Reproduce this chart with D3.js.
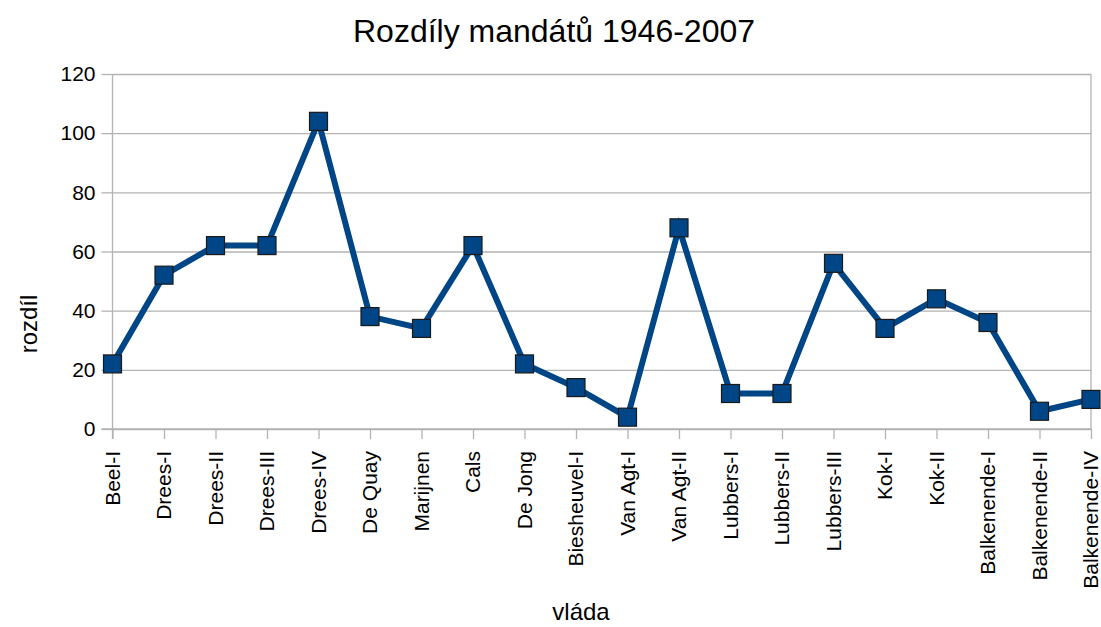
<!DOCTYPE html>
<html>
<head>
<meta charset="utf-8">
<script src="https://cdn.jsdelivr.net/npm/d3@7"></script>
<style>
  body { margin: 0; background: #fff; }
  text { font-family: "Liberation Sans", Arial, sans-serif; fill: #000; }
</style>
</head>
<body>
<svg id="chart" width="1101" height="627"></svg>
<script>
const vlady = ['Beel-I', 'Drees-I', 'Drees-II', 'Drees-III', 'Drees-IV', 'De Quay', 'Marijnen', 'Cals',
  'De Jong', 'Biesheuvel-I', 'Van Agt-I', 'Van Agt-II', 'Lubbers-I', 'Lubbers-II', 'Lubbers-III',
  'Kok-I', 'Kok-II', 'Balkenende-I', 'Balkenende-II', 'Balkenende-IV'];
const rozdil = [22, 52, 62, 62, 104, 38, 34, 62, 22, 14, 4, 68, 12, 12, 56, 34, 44, 36, 6, 10];
const yTicks = [0, 20, 40, 60, 80, 100, 120];

const svg = d3.select('#chart');
const margin = { top: 74, right: 10, bottom: 198, left: 112.5 };
const width = 1091 - margin.left;
const height = 429 - margin.top;
const g = svg.append('g').attr('transform', `translate(${margin.left},${margin.top})`);

const x = d3.scalePoint().domain(vlady).range([0, width]);
const y = d3.scaleLinear().domain([0, 120]).range([height, 0]);

// grid
g.append('g')
  .call(d3.axisLeft(y).tickValues(yTicks).tickSize(-width).tickFormat(() => ''))
  .call(s => s.select('.domain').remove())
  .selectAll('line').attr('stroke', '#b3b3b3').attr('stroke-width', 1.3);

// right border
g.append('line').attr('x1', width).attr('x2', width).attr('y1', 0).attr('y2', height)
  .attr('stroke', '#b3b3b3').attr('stroke-width', 1.3);

// y axis
const yAxis = g.append('g')
  .call(d3.axisLeft(y).tickValues(yTicks).tickSize(11).tickPadding(6));
yAxis.select('.domain').attr('stroke', '#b3b3b3').attr('stroke-width', 1.3).attr('d', `M0,${height + 10}V0`);
yAxis.selectAll('line').attr('stroke', '#b3b3b3').attr('stroke-width', 1.3);
yAxis.selectAll('text').style('font-size', '21px').attr('font-family', '"Liberation Sans", Arial, sans-serif');

// x axis
const xAxis = g.append('g').attr('transform', `translate(0,${height})`)
  .call(d3.axisBottom(x).tickSize(10).tickPadding(8));
xAxis.select('.domain').attr('stroke', '#b3b3b3').attr('stroke-width', 1.3).attr('d', `M-11,0H${width}`);
xAxis.selectAll('line').attr('stroke', '#b3b3b3').attr('stroke-width', 1.3);
xAxis.selectAll('text')
  .style('font-size', '21px')
  .attr('font-family', '"Liberation Sans", Arial, sans-serif')
  .attr('transform', 'rotate(-90)')
  .attr('text-anchor', 'end')
  .attr('x', -22)
  .attr('y', 0)
  .attr('dy', '0.32em');

// line
const line = d3.line().x((d, i) => x(vlady[i])).y(d => y(d));
g.append('path').datum(rozdil)
  .attr('fill', 'none')
  .attr('stroke', '#004586')
  .attr('stroke-width', 6)
  .attr('stroke-linejoin', 'miter')
  .attr('d', line);

// markers
const ms = 18;
g.selectAll('rect.dot').data(rozdil).join('rect')
  .attr('class', 'dot')
  .attr('x', (d, i) => x(vlady[i]) - ms / 2)
  .attr('y', d => y(d) - ms / 2)
  .attr('width', ms).attr('height', ms)
  .attr('fill', '#004586')
  .attr('stroke', '#1a1a1a')
  .attr('stroke-width', 1.2);

// titles
svg.append('text').attr('x', 554).attr('y', 42).attr('text-anchor', 'middle')
  .style('font-size', '32px').text('Rozdíly mandátů 1946-2007');
svg.append('text').attr('x', 581).attr('y', 620).attr('text-anchor', 'middle')
  .style('font-size', '24px').text('vláda');
svg.append('text').attr('transform', 'translate(37,324) rotate(-90)').attr('text-anchor', 'middle')
  .style('font-size', '24px').text('rozdíl');
</script>
</body>
</html>
